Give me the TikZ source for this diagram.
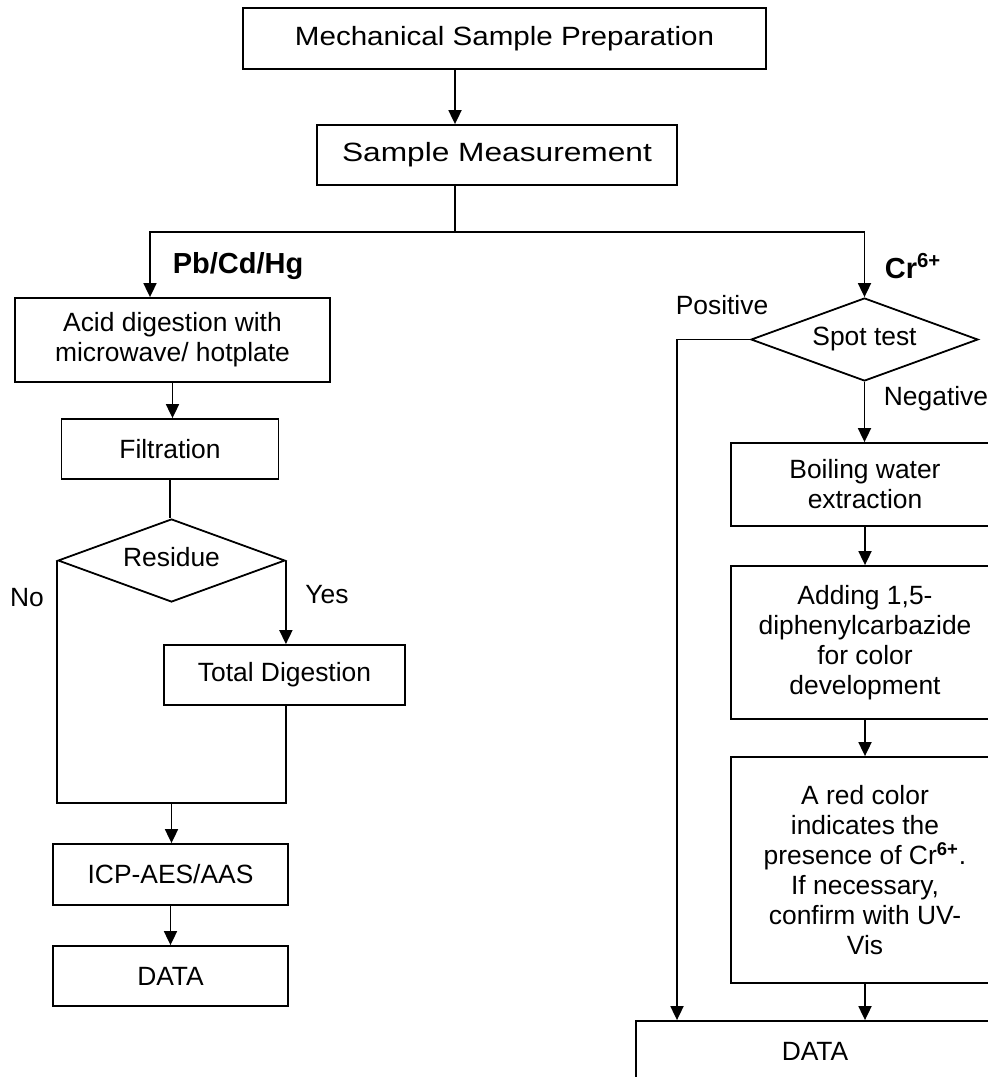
\documentclass[tikz,border=0pt]{standalone}
\usepackage{fontspec}
\setmainfont{Liberation Sans}
\newfontfamily\prepfont[FakeStretch=1.12]{Liberation Sans}
\newfontfamily\measfont[FakeStretch=1.2]{Liberation Sans}
\usepackage{tikz}
\usetikzlibrary{arrows.meta,shapes.geometric}

\tikzset{
    txt/.style={font=\fontsize{13.2}{15}\selectfont, align=center, inner sep=0pt},
    box/.style={txt, draw, line width=0.9pt},
    test/.style={txt, draw, line width=0.9pt, shape=diamond, aspect=2.7,
        minimum width=113.5pt, minimum height=41.5pt},
    metal/.style={font=\fontsize{14.5}{18}\selectfont\bfseries, inner sep=0pt},
    arr/.style={line width=0.9pt, -{Triangle[length=7pt,width=6.5pt]}},
    ln/.style={line width=0.9pt}
}

\begin{document}
\begin{tikzpicture}[x=0.5pt, y=-0.5pt]
    \useasboundingbox (0,0) rectangle (988,1077);
    \clip (0,0) rectangle (988,1077);

    \node[box, minimum width=261.5pt, minimum height=30.5pt] (prep) at (504.5,38.5) {\prepfont Mechanical Sample Preparation};
    \node[box, minimum width=180pt, minimum height=30pt] (meas) at (497,155) {\measfont Sample Measurement};

    \coordinate (split) at (455,232);
    \coordinate (bleft) at (150,232);

    \draw[arr] (split |- prep.south) -- (split |- meas.north);
    \draw[ln] (split |- meas.south) -- (split);

    \node[metal] (pbcdhg) at (238,266) {Pb/Cd/Hg};
    \node[metal] (crsix) at (913,266) {Cr\textsuperscript{6+}};

    \node[box, minimum width=157.5pt, minimum height=42pt] (acid) at (172.5,340) {Acid digestion with\\microwave/ hotplate};
    \node[box, minimum width=108.5pt, minimum height=30pt] (filt) at (170,449) {Filtration};
    \node[test] (residue) at (171.5,560.5) {\raisebox{4pt}{Residue}};
    \node[box, minimum width=120.5pt, minimum height=30pt] (total) at (284.5,675) {Total Digestion};
    \node[box, minimum width=117.5pt, minimum height=30.5pt] (icp) at (170.5,874.5) {ICP-AES/AAS};
    \node[box, minimum width=117.5pt, minimum height=30pt] (dataA) at (170.5,976) {DATA};

    \node[txt] (no) at (27,598) {No};
    \node[txt] (yes) at (327,595) {Yes};

    \coordinate (merge) at (171.5,803);

    \draw[arr] (split) -- (bleft) -- (bleft |- acid.north);
    \draw[arr] (acid.south) -- (acid.south |- filt.north);
    \draw[ln] (filt.south) -- (filt.south |- residue.north);
    \draw[arr] (residue.east) -- (residue.east |- total.north);
    \draw[ln] (residue.west) -- (residue.west |- merge) -- (residue.east |- merge) -- (residue.east |- total.south);
    \draw[arr] (merge) -- (merge |- icp.north);
    \draw[arr] (icp.south) -- (icp.south |- dataA.north);

    \node[test] (spot) at (864.5,339.5) {\raisebox{2pt}{Spot test}};
    \node[box, minimum width=134pt, minimum height=41.5pt] (boil) at (865,484.5) {Boiling water\\extraction};
    \node[box, minimum width=134pt, minimum height=76.5pt] (adding) at (865,642.5) {Adding 1,5-\\diphenylcarbazide\\for color\\development};
    \node[box, minimum width=134pt, minimum height=113pt] (red) at (865,870) {A red color\\indicates the\\presence of Cr\textsuperscript{\textbf{6+}}.\\If necessary,\\confirm with UV-\\Vis};
    \node[box, minimum width=179pt, minimum height=30pt] (dataB) at (815,1051) {DATA};

    \node[txt] (positive) at (722,305) {Positive};
    \node[txt] (negative) at (936,399) {Negative};

    \coordinate (pos) at (677,339.5);

    \draw[arr] (split) -| (spot.north);
    \draw[arr] (spot.south) -- (spot.south |- boil.north);
    \draw[arr] (boil.south) -- (adding.north);
    \draw[arr] (adding.south) -- (red.north);
    \draw[arr] (red.south) -- (red.south |- dataB.north);
    \draw[arr] (spot.west) -- (pos) -- (pos |- dataB.north);
\end{tikzpicture}
\end{document}
